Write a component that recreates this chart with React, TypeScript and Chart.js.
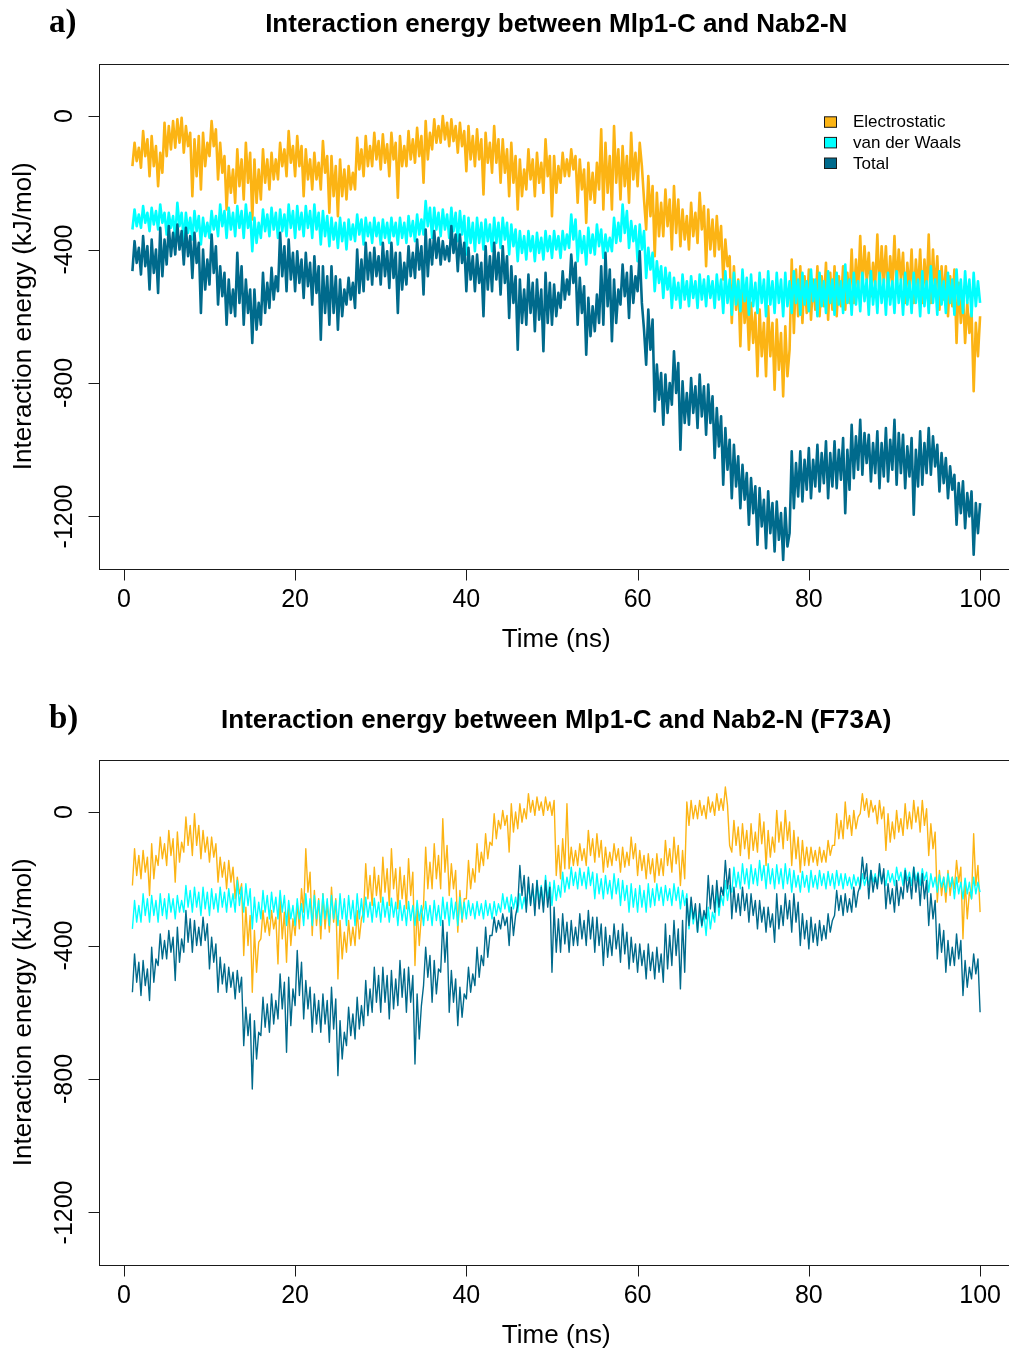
import React, { useEffect, useRef } from "react";
import { Chart, registerables } from "chart.js";

Chart.register(...registerables);

// Sampling grid of the trajectories (ns)
const TIME_START = 1;
const TIME_STEP = 0.25;

const X_TICKS = [0, 20, 40, 60, 80, 100];
const Y_TICKS = [0, -400, -800, -1200];
const Y_TICK_LABELS = ["0", "-400", "-800", "-1200"];

const SERIES_NAMES = ["Electrostatic", "van der Waals", "Total"];
const SERIES_COLORS = ["#FCB414", "#00FFFF", "#006A8C"];

// a) wild type: interaction energies (kJ/mol), every 0.25 ns from 1 to 100 ns
const elecA = [
  -150, -80, -135, -95, -155, -45, -120, -70, -180, -60, -150, -90, -210, -110, -170, -20, -120, -30, -100, -15,
  -95, -10, -80, -5, -110, -30, -90, -50, -240, -70, -180, -60, -220, -50, -150, -80, -120, -15, -90, -40,
  -190, -80, -170, -120, -280, -150, -230, -160, -260, -100, -210, -130, -250, -80, -200, -110, -310, -130, -260, -160,
  -250, -100, -200, -130, -220, -110, -190, -130, -190, -80, -150, -100, -180, -45, -140, -90, -180, -60, -150, -90,
  -240, -100, -190, -130, -220, -110, -190, -140, -220, -75, -170, -120, -290, -120, -240, -150, -300, -130, -240, -160,
  -250, -150, -220, -170, -220, -65, -160, -100, -180, -60, -150, -90, -150, -50, -130, -75, -160, -55, -140, -85,
  -180, -50, -130, -80, -245, -60, -150, -90, -150, -45, -130, -70, -140, -35, -120, -60, -200, -15, -130, -50,
  -100, -10, -80, -30, -80, 0, -70, -20, -90, -10, -75, -30, -110, -20, -90, -45, -165, -30, -130, -60,
  -150, -40, -130, -70, -235, -50, -140, -80, -170, -30, -140, -70, -200, -70, -170, -100, -240, -80, -200, -120,
  -280, -130, -240, -160, -220, -100, -190, -130, -240, -110, -200, -140, -230, -70, -180, -120, -300, -120, -230, -150,
  -200, -110, -180, -130, -180, -100, -160, -120, -260, -130, -220, -160, -320, -140, -250, -170, -260, -140, -220, -40,
  -280, -80, -230, -120, -280, -30, -200, -100, -250, -90, -210, -120, -260, -50, -190, -110, -210, -80, -150, -250,
  -340, -180, -300, -210, -420, -230, -360, -260, -360, -220, -330, -250, -400, -210, -350, -250, -390, -280, -370, -300,
  -400, -260, -360, -290, -380, -230, -340, -270, -450, -280, -400, -310, -420, -300, -400, -330, -490, -370, -450, -420,
  -620, -450, -580, -490, -690, -490, -620, -540, -700, -560, -680, -590, -780, -580, -720, -620, -780, -570, -720, -620,
  -820, -610, -760, -650, -840, -630, -780, -700, -430, -650, -460, -600, -450, -620, -480, -590, -460, -610, -490, -580,
  -450, -600, -480, -570, -440, -610, -470, -580, -450, -600, -480, -570, -450, -580, -470, -560, -400, -560, -430, -530,
  -360, -520, -390, -490, -410, -540, -440, -510, -355, -530, -390, -500, -390, -540, -420, -510, -360, -520, -400, -490,
  -410, -560, -440, -530, -400, -560, -430, -530, -400, -560, -430, -530, -355, -560, -400, -530, -420, -580, -450, -550,
  -450, -600, -480, -570, -460, -680, -500, -620, -530, -680, -560, -650, -580, -825, -620, -720, -600,
];

const vdwA = [
  -340, -280, -330, -295, -335, -270, -320, -290, -345, -275, -325, -285, -340, -265, -320, -290, -355, -290, -335, -300,
  -365, -260, -330, -290, -375, -290, -350, -305, -370, -285, -345, -300, -385, -305, -360, -320, -365, -285, -340, -300,
  -360, -265, -330, -285, -365, -275, -340, -290, -360, -270, -335, -285, -365, -265, -335, -290, -405, -305, -380, -320,
  -365, -280, -345, -295, -360, -275, -340, -290, -365, -280, -345, -295, -360, -265, -335, -285, -365, -270, -340, -290,
  -360, -270, -335, -285, -365, -265, -340, -290, -385, -285, -360, -300, -390, -305, -370, -320, -395, -305, -375, -320,
  -400, -310, -370, -325, -375, -295, -355, -310, -385, -305, -360, -320, -380, -305, -360, -320, -385, -310, -365, -320,
  -380, -305, -360, -320, -385, -305, -365, -320, -380, -300, -360, -315, -375, -295, -355, -310, -355, -255, -330, -275,
  -365, -275, -340, -290, -360, -280, -340, -295, -365, -275, -345, -290, -375, -285, -355, -300, -415, -305, -380, -320,
  -405, -305, -380, -320, -400, -310, -375, -325, -405, -305, -380, -320, -395, -305, -370, -320, -415, -325, -390, -340,
  -435, -345, -410, -360, -430, -345, -405, -360, -435, -350, -410, -365, -430, -345, -405, -360, -425, -345, -400, -360,
  -425, -345, -400, -355, -395, -295, -370, -310, -435, -345, -410, -360, -445, -335, -410, -355, -415, -325, -390, -340,
  -425, -355, -405, -365, -405, -305, -380, -320, -375, -265, -350, -285, -395, -315, -375, -330, -435, -325, -400, -345,
  -485, -395, -460, -410, -525, -435, -500, -450, -545, -455, -520, -470, -575, -485, -550, -500, -575, -475, -550, -495,
  -570, -480, -545, -495, -575, -475, -550, -490, -570, -480, -545, -495, -575, -475, -550, -490, -590, -465, -560, -490,
  -595, -470, -565, -495, -585, -460, -555, -485, -595, -475, -570, -500, -590, -470, -560, -490, -600, -465, -565, -495,
  -590, -470, -560, -490, -600, -470, -570, -495, -590, -465, -560, -490, -595, -470, -565, -495, -585, -460, -555, -490,
  -600, -470, -570, -495, -590, -465, -560, -490, -595, -470, -565, -495, -590, -445, -560, -490, -595, -470, -565, -495,
  -585, -470, -555, -490, -595, -465, -565, -495, -590, -470, -560, -490, -595, -470, -565, -495, -590, -465, -560, -490,
  -595, -470, -565, -495, -590, -470, -560, -490, -600, -465, -570, -495, -590, -450, -560, -490, -595, -465, -565, -495,
  -590, -470, -560, -490, -595, -460, -565, -490, -590, -465, -560, -490, -600, -470, -570, -495, -560,
];

const totalA = [
  -465, -375, -440, -395, -475, -360, -450, -390, -520, -370, -470, -400, -530, -335, -480, -370, -445, -330, -420, -350,
  -415, -325, -400, -345, -445, -335, -420, -360, -485, -350, -440, -380, -590, -400, -520, -430, -505, -355, -470, -390,
  -565, -450, -540, -470, -625, -490, -590, -520, -600, -410, -560, -450, -625, -490, -590, -520, -680, -520, -640, -560,
  -625, -470, -590, -500, -575, -455, -550, -480, -525, -350, -480, -390, -525, -370, -490, -410, -525, -405, -500, -430,
  -545, -410, -510, -440, -565, -420, -530, -450, -670, -450, -590, -480, -625, -450, -590, -480, -640, -490, -600, -520,
  -565, -485, -550, -500, -575, -400, -530, -430, -525, -380, -490, -410, -505, -395, -480, -420, -505, -380, -480, -405,
  -515, -380, -485, -410, -590, -410, -520, -440, -505, -390, -480, -410, -485, -370, -460, -390, -535, -340, -480, -370,
  -445, -345, -425, -365, -445, -375, -430, -390, -435, -330, -410, -355, -465, -355, -440, -380, -525, -395, -490, -420,
  -525, -415, -500, -440, -600, -390, -520, -420, -525, -380, -490, -410, -535, -390, -500, -420, -605, -450, -560, -480,
  -700, -490, -620, -520, -625, -475, -590, -500, -645, -490, -610, -520, -705, -470, -620, -500, -625, -505, -600, -530,
  -575, -465, -550, -490, -535, -415, -500, -440, -625, -485, -590, -510, -715, -545, -660, -570, -645, -535, -620, -450,
  -625, -410, -570, -460, -675, -490, -620, -520, -565, -445, -540, -470, -605, -450, -560, -480, -525, -405, -560, -640,
  -745, -580, -700, -610, -885, -745, -850, -770, -925, -775, -890, -800, -865, -705, -830, -740, -1000, -795, -920, -830,
  -925, -785, -890, -810, -935, -775, -900, -810, -955, -805, -920, -840, -1025, -875, -990, -900, -1105, -935, -1060, -970,
  -1145, -985, -1110, -1020, -1175, -1045, -1150, -1070, -1225, -1085, -1190, -1110, -1285, -1115, -1230, -1150, -1295, -1125, -1250, -1160,
  -1305, -1155, -1270, -1190, -1330, -1175, -1290, -1250, -1005, -1175, -1040, -1140, -1005, -1155, -1030, -1120, -995, -1145, -1030, -1110,
  -985, -1125, -1010, -1100, -975, -1145, -1010, -1110, -975, -1115, -1000, -1090, -965, -1190, -1000, -1120, -925, -1085, -960, -1060,
  -910, -1075, -950, -1040, -955, -1095, -980, -1070, -945, -1115, -980, -1080, -935, -1095, -970, -1060, -910, -1105, -950, -1070,
  -955, -1115, -990, -1080, -965, -1195, -1000, -1110, -945, -1105, -980, -1070, -935, -1075, -960, -1050, -985, -1125, -1010, -1100,
  -1025, -1145, -1050, -1120, -1075, -1225, -1100, -1190, -1095, -1235, -1130, -1200, -1125, -1315, -1160, -1250, -1160,
];

// b) F73A mutant: interaction energies (kJ/mol), every 0.25 ns from 1 to 100 ns
const elecB = [
  -220, -110, -190, -130, -200, -115, -180, -135, -250, -95, -200, -130, -160, -75, -140, -95, -160, -55, -130, -80,
  -210, -60, -150, -90, -120, -15, -100, -40, -130, -5, -100, -40, -140, -55, -120, -75, -150, -75, -135, -95,
  -210, -135, -195, -150, -230, -145, -210, -165, -260, -195, -245, -215, -430, -285, -400, -310, -540, -355, -480, -390,
  -380, -295, -360, -315, -370, -295, -350, -315, -455, -255, -380, -300, -450, -285, -400, -320, -370, -275, -350, -230,
  -300, -110, -240, -180, -370, -235, -340, -260, -380, -245, -350, -270, -360, -225, -330, -260, -500, -325, -440, -360,
  -420, -325, -400, -345, -400, -295, -380, -320, -300, -155, -260, -190, -280, -165, -250, -190, -270, -135, -240, -170,
  -280, -110, -230, -170, -290, -165, -260, -190, -290, -140, -250, -180, -460, -285, -400, -310, -280, -105, -230, -150,
  -230, -95, -200, -130, -230, -20, -180, -100, -250, -155, -230, -175, -360, -235, -330, -260, -260, -145, -230, -170,
  -210, -95, -180, -120, -160, -65, -140, -90, -100, -5, -80, -25, -50, 5, -40, -10, -120, 25, -60, 0,
  -50, 25, -30, 10, -20, 55, 0, 35, -10, 45, 5, 30, -10, 45, 5, 30, -10, 35, -190, -100,
  -200, -80, -170, 25, -170, -105, -160, -115, -160, -95, -145, -110, -160, -55, -130, -80, -150, -65, -135, -85,
  -180, -105, -165, -120, -160, -95, -145, -110, -180, -105, -165, -120, -160, -75, -140, -95, -190, -115, -175, -130,
  -200, -125, -185, -140, -210, -125, -190, -140, -190, -85, -160, -110, -180, -75, -155, -100, -220, -115, -200, 30,
  -40, 35, -20, 20, -20, 35, -10, 20, -20, 45, 0, 30, -10, 55, 5, 40, 5, 75, 20, -100,
  -120, -25, -100, -45, -130, -35, -110, -55, -140, -35, -115, -60, -120, -5, -95, -30, -160, -55, -135, -75,
  -120, 5, -90, -30, -110, 5, -85, -30, -160, -55, -140, -75, -180, -85, -160, -105, -160, -105, -150, -115,
  -160, -105, -150, -115, -150, -85, -130, -100, -100, -5, -80, -25, -80, 30, -50, -10, -70, 5, -50, -15,
  -5, 55, 5, 40, -15, 35, 0, 20, -35, 35, -20, 15, -115, -5, -90, -30, -80, 5, -60, -20,
  -70, 25, -50, 0, -50, 35, -30, 15, -60, 35, -40, 10, -130, -35, -110, -60, -270, -175, -250, -195,
  -270, -175, -250, -195, -230, -145, -210, -165, -380, -205, -320, -240, -260, -65, -220, -160, -300,
];

const vdwB = [
  -350, -265, -330, -280, -330, -245, -310, -260, -330, -250, -310, -265, -330, -245, -310, -260, -320, -245, -300, -260,
  -320, -250, -300, -265, -300, -220, -285, -235, -300, -225, -285, -240, -310, -225, -290, -240, -310, -230, -290, -245,
  -300, -225, -285, -240, -300, -230, -285, -245, -300, -205, -280, -225, -300, -215, -280, -230, -350, -255, -330, -270,
  -320, -235, -300, -250, -320, -240, -300, -255, -320, -235, -300, -250, -340, -265, -320, -280, -340, -260, -320, -275,
  -340, -245, -320, -260, -340, -250, -320, -265, -340, -245, -320, -260, -340, -250, -320, -265, -340, -245, -320, -260,
  -340, -250, -320, -265, -340, -245, -320, -260, -330, -255, -315, -270, -330, -258, -315, -270, -330, -255, -315, -270,
  -330, -258, -315, -270, -340, -265, -325, -280, -340, -268, -325, -280, -340, -265, -325, -280, -340, -268, -325, -280,
  -340, -265, -325, -280, -340, -255, -320, -270, -340, -258, -320, -270, -340, -255, -320, -270, -320, -265, -310, -275,
  -320, -268, -310, -275, -320, -265, -310, -275, -320, -268, -310, -275, -300, -245, -290, -255, -300, -248, -290, -255,
  -300, -245, -290, -255, -290, -215, -275, -230, -280, -205, -265, -220, -280, -190, -260, -210, -280, -205, -265, -220,
  -255, -180, -240, -195, -230, -165, -220, -180, -230, -168, -220, -180, -230, -165, -220, -180, -260, -185, -245, -200,
  -260, -190, -245, -205, -260, -185, -245, -200, -280, -205, -265, -220, -300, -215, -285, -230, -300, -220, -285, -235,
  -300, -215, -285, -230, -280, -215, -265, -225, -280, -220, -265, -230, -280, -215, -265, -225, -290, -235, -280, -245,
  -350, -275, -335, -290, -360, -295, -345, -305, -370, -285, -350, -300, -330, -235, -310, -250, -280, -205, -265, -220,
  -240, -165, -225, -180, -230, -155, -215, -170, -230, -158, -215, -170, -220, -145, -205, -160, -230, -155, -215, -170,
  -230, -158, -215, -170, -230, -155, -215, -170, -240, -175, -225, -190, -240, -178, -225, -190, -240, -175, -225, -190,
  -230, -175, -220, -185, -230, -178, -220, -185, -230, -175, -220, -185, -230, -185, -220, -195, -230, -188, -220, -195,
  -230, -185, -220, -195, -220, -175, -210, -185, -220, -178, -210, -185, -220, -175, -210, -185, -220, -165, -205, -180,
  -220, -168, -205, -180, -220, -165, -205, -180, -220, -170, -205, -180, -240, -185, -225, -195, -240, -188, -225, -195,
  -240, -185, -225, -195, -260, -195, -245, -210, -260, -198, -245, -210, -260, -195, -245, -210, -240,
];

const totalB = [
  -540, -425, -510, -450, -550, -445, -520, -470, -565, -405, -510, -440, -460, -365, -440, -385, -440, -355, -420, -375,
  -505, -345, -450, -380, -420, -295, -390, -320, -420, -325, -400, -345, -400, -315, -385, -335, -470, -375, -450, -395,
  -540, -435, -515, -455, -540, -465, -525, -480, -560, -475, -540, -495, -700, -585, -670, -605, -830, -625, -740, -660,
  -670, -555, -645, -575, -660, -545, -635, -565, -620, -485, -590, -510, -720, -495, -640, -530, -580, -415, -550, -450,
  -620, -505, -590, -525, -660, -545, -635, -565, -660, -545, -635, -565, -690, -525, -650, -560, -790, -625, -740, -660,
  -700, -585, -670, -605, -680, -555, -650, -580, -640, -505, -610, -530, -600, -465, -570, -490, -600, -465, -570, -490,
  -620, -475, -590, -500, -580, -445, -555, -470, -600, -465, -570, -490, -755, -545, -680, -580, -520, -405, -495, -430,
  -570, -445, -545, -470, -480, -325, -450, -360, -600, -475, -570, -500, -640, -525, -615, -545, -560, -465, -540, -485,
  -520, -405, -495, -430, -460, -345, -435, -370, -370, -315, -360, -325, -350, -305, -340, -315, -400, -285, -370, -310,
  -280, -160, -250, -190, -300, -195, -280, -215, -310, -205, -290, -225, -300, -205, -285, -225, -480, -285, -420, -320,
  -420, -305, -395, -330, -420, -325, -400, -345, -400, -305, -380, -325, -400, -295, -380, -315, -420, -315, -400, -335,
  -460, -345, -435, -370, -430, -335, -410, -355, -450, -335, -425, -360, -470, -375, -450, -395, -480, -395, -460, -415,
  -500, -395, -475, -420, -500, -405, -480, -425, -510, -335, -470, -370, -460, -325, -430, -350, -530, -325, -480, -260,
  -340, -255, -320, -275, -360, -275, -340, -295, -320, -190, -290, -220, -300, -205, -285, -225, -250, -145, -230, -170,
  -320, -225, -300, -245, -310, -225, -295, -245, -330, -245, -310, -265, -350, -265, -330, -285, -360, -285, -345, -305,
  -390, -245, -350, -280, -340, -245, -320, -265, -360, -245, -330, -270, -400, -305, -380, -325, -410, -315, -390, -335,
  -400, -325, -385, -340, -380, -305, -360, -325, -310, -235, -295, -250, -310, -245, -300, -260, -300, -225, -285, -240,
  -220, -135, -200, -155, -260, -175, -240, -195, -230, -155, -215, -170, -290, -215, -275, -230, -300, -205, -280, -225,
  -260, -175, -240, -195, -260, -165, -240, -185, -280, -185, -260, -205, -340, -245, -320, -265, -440, -335, -420, -355,
  -480, -385, -460, -405, -460, -365, -440, -385, -550, -445, -525, -465, -500, -425, -485, -440, -600,
];

const toPoints = (vals: number[]) => vals.map((y, i) => ({ x: TIME_START + i * TIME_STEP, y }));

type PanelSpec = {
  letter: string;
  title: string;
  elec: number[];
  vdw: number[];
  total: number[];
  lineWidth: number;
  showLegend: boolean;
};

const CANVAS_W = 1020;
const PAD = { left: 98.5, right: 6, top: 64 };
const PLOT_H = 504.5;

const SANS = '"Liberation Sans", Arial, Helvetica, sans-serif';
const SERIF = '"Liberation Serif", "Times New Roman", serif';

function framePlugin(spec: PanelSpec) {
  return {
    id: "rFrame",
    afterDraw(chart: any) {
      const ctx: CanvasRenderingContext2D = chart.ctx;
      const { left, right, top, bottom } = chart.chartArea;
      const xs = chart.scales.x;
      const ys = chart.scales.y;
      const L = Math.round(left) + 0.5;
      const T = Math.round(top) + 0.5;
      const B = Math.round(bottom) + 0.5;
      const R = Math.round(right) + 0.5;

      ctx.save();
      ctx.strokeStyle = "#1a1a1a";
      ctx.lineWidth = 1;
      ctx.strokeRect(L, T, R - L, B - T);

      // x axis ticks and labels
      ctx.fillStyle = "#000";
      ctx.font = `25px ${SANS}`;
      ctx.textAlign = "center";
      ctx.textBaseline = "alphabetic";
      ctx.beginPath();
      X_TICKS.forEach((v) => {
        const px = Math.round(xs.getPixelForValue(v)) + 0.5;
        ctx.moveTo(px, B);
        ctx.lineTo(px, B + 11);
      });
      ctx.stroke();
      X_TICKS.forEach((v) => {
        ctx.fillText(String(v), xs.getPixelForValue(v), bottom + 38);
      });

      // y axis ticks and labels (parallel to the axis)
      ctx.beginPath();
      Y_TICKS.forEach((v) => {
        const py = Math.round(ys.getPixelForValue(v)) + 0.5;
        ctx.moveTo(L, py);
        ctx.lineTo(L - 11, py);
      });
      ctx.stroke();
      Y_TICKS.forEach((v, i) => {
        ctx.save();
        ctx.translate(72, ys.getPixelForValue(v));
        ctx.rotate(-Math.PI / 2);
        ctx.fillText(Y_TICK_LABELS[i], 0, 0);
        ctx.restore();
      });

      // axis titles
      ctx.font = `26px ${SANS}`;
      ctx.fillText("Time (ns)", (left + right) / 2, bottom + 78);
      ctx.save();
      ctx.translate(31, (top + bottom) / 2);
      ctx.rotate(-Math.PI / 2);
      ctx.fillText("Interaction energy (kJ/mol)", 0, 0);
      ctx.restore();

      // main title and panel letter
      ctx.font = `bold 26px ${SANS}`;
      ctx.fillText(spec.title, (left + right) / 2, 31.5);
      ctx.textAlign = "left";
      ctx.font = `bold 33px ${SERIF}`;
      ctx.fillText(spec.letter, 49, 32);

      // legend
      if (spec.showLegend) {
        ctx.font = `17px ${SANS}`;
        ctx.textAlign = "left";
        SERIES_NAMES.forEach((name, i) => {
          const baseY = 127.3 + i * 20.6;
          ctx.fillStyle = SERIES_COLORS[i];
          ctx.fillRect(824.5, baseY - 10.5, 12, 10.5);
          ctx.strokeStyle = "#1a1a1a";
          ctx.strokeRect(824.5, baseY - 10.5, 12, 10.5);
          ctx.fillStyle = "#000";
          ctx.fillText(name, 853, baseY);
        });
      }
      ctx.restore();
    },
  };
}

function Panel({ spec, height }: { spec: PanelSpec; height: number }) {
  const ref = useRef<HTMLCanvasElement | null>(null);

  useEffect(() => {
    if (!ref.current) return;
    const mk = (label: string, vals: number[], color: string) => ({
      label,
      data: toPoints(vals),
      borderColor: color,
      backgroundColor: color,
      borderWidth: spec.lineWidth,
      pointRadius: 0,
      tension: 0,
      fill: false,
      borderJoinStyle: "round" as const,
    });
    // later datasets are painted underneath the earlier ones
    const chart = new Chart(ref.current, {
      type: "line",
      data: {
        datasets: [
          mk(SERIES_NAMES[2], spec.total, SERIES_COLORS[2]),
          mk(SERIES_NAMES[1], spec.vdw, SERIES_COLORS[1]),
          mk(SERIES_NAMES[0], spec.elec, SERIES_COLORS[0]),
        ],
      },
      options: {
        animation: false,
        responsive: false,
        maintainAspectRatio: false,
        devicePixelRatio: 1,
        events: [],
        layout: {
          padding: {
            left: PAD.left,
            right: PAD.right,
            top: PAD.top,
            bottom: height - PAD.top - PLOT_H,
          },
        },
        scales: {
          x: { type: "linear", min: -2.96, max: 103.96, display: false },
          y: { type: "linear", min: -1356, max: 156, display: false },
        },
        plugins: {
          legend: { display: false },
          tooltip: { enabled: false },
        },
      },
      plugins: [framePlugin(spec)],
    });
    return () => chart.destroy();
  }, [spec, height]);

  return (
    <canvas
      ref={ref}
      width={CANVAS_W}
      height={height}
      style={{ display: "block", width: CANVAS_W, height }}
    />
  );
}

const PANEL_A: PanelSpec = {
  letter: "a)",
  title: "Interaction energy between Mlp1-C and Nab2-N",
  elec: elecA,
  vdw: vdwA,
  total: totalA,
  lineWidth: 2.6,
  showLegend: true,
};

const PANEL_B: PanelSpec = {
  letter: "b)",
  title: "Interaction energy between Mlp1-C and Nab2-N (F73A)",
  elec: elecB,
  vdw: vdwB,
  total: totalB,
  lineWidth: 1.4,
  showLegend: false,
};

export default function App() {
  return (
    <div
      style={{
        position: "absolute",
        left: 0,
        top: 0,
        width: 1009,
        height: 1351,
        overflow: "hidden",
        background: "#fff",
      }}
    >
      <div style={{ position: "absolute", left: 0, top: 0 }}>
        <Panel spec={PANEL_A} height={696} />
      </div>
      <div style={{ position: "absolute", left: 0, top: 696 }}>
        <Panel spec={PANEL_B} height={655} />
      </div>
    </div>
  );
}
